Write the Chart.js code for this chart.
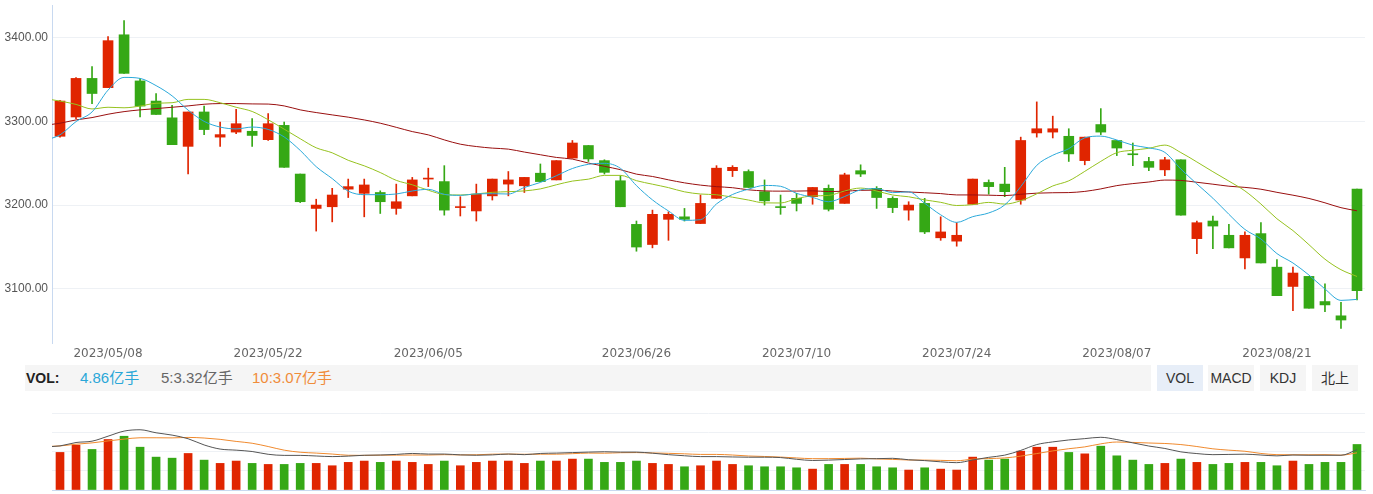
<!DOCTYPE html>
<html>
<head>
<meta charset="utf-8">
<script src="https://cdn.jsdelivr.net/npm/chart.js@4.4.0/dist/chart.umd.min.js"></script>
<style>
  body { margin: 0; background: #fff; font-family: Arial, "Liberation Sans", "Noto Sans CJK SC", sans-serif; }
  #wrap { position: relative; width: 1373px; height: 494px; overflow: hidden; }
  #kline { position: absolute; left: 0; top: 0; }
  #vol { position: absolute; left: 0; top: 400px; }
  .bar { position: absolute; left: 25px; top: 365px; width: 1126px; height: 26px; background: #f5f5f5; }
  .lbl { position: absolute; top: 365px; line-height: 26px; font-size: 15px; white-space: nowrap; }
  .btn { position: absolute; top: 365px; width: 46px; height: 26px; line-height: 26px; text-align: center; font-size: 14px; color: #333; background: #f5f5f5; }
  .btn.on { background: #e7eef8; }
</style>
</head>
<body>
<div id="wrap">
  <canvas id="kline" width="1373" height="360"></canvas>
  <div class="bar"></div>
  <span class="lbl" style="left:26px;font-weight:bold;color:#222;font-size:14px">VOL:</span>
  <span class="lbl" style="left:80px;color:#2aa7d8">4.86亿手</span>
  <span class="lbl" style="left:161px;color:#666">5:3.32亿手</span>
  <span class="lbl" style="left:252px;color:#f08c3a">10:3.07亿手</span>
  <div class="btn on" style="left:1157px">VOL</div>
  <div class="btn" style="left:1208px">MACD</div>
  <div class="btn" style="left:1260px">KDJ</div>
  <div class="btn" style="left:1312px">北上</div>
  <canvas id="vol" width="1373" height="94"></canvas>
</div>
<script>
// trading days shown
const dates = [
  '2023/04/28', '2023/05/04', '2023/05/05', '2023/05/08', '2023/05/09', '2023/05/10', '2023/05/11', '2023/05/12', '2023/05/15', '2023/05/16',
  '2023/05/17', '2023/05/18', '2023/05/19', '2023/05/22', '2023/05/23', '2023/05/24', '2023/05/25', '2023/05/26', '2023/05/29', '2023/05/30',
  '2023/05/31', '2023/06/01', '2023/06/02', '2023/06/05', '2023/06/06', '2023/06/07', '2023/06/08', '2023/06/09', '2023/06/12', '2023/06/13',
  '2023/06/14', '2023/06/15', '2023/06/16', '2023/06/19', '2023/06/20', '2023/06/21', '2023/06/26', '2023/06/27', '2023/06/28', '2023/06/29',
  '2023/06/30', '2023/07/03', '2023/07/04', '2023/07/05', '2023/07/06', '2023/07/07', '2023/07/10', '2023/07/11', '2023/07/12', '2023/07/13',
  '2023/07/14', '2023/07/17', '2023/07/18', '2023/07/19', '2023/07/20', '2023/07/21', '2023/07/24', '2023/07/25', '2023/07/26', '2023/07/27',
  '2023/07/28', '2023/07/31', '2023/08/01', '2023/08/02', '2023/08/03', '2023/08/04', '2023/08/07', '2023/08/08', '2023/08/09', '2023/08/10',
  '2023/08/11', '2023/08/14', '2023/08/15', '2023/08/16', '2023/08/17', '2023/08/18', '2023/08/21', '2023/08/22', '2023/08/23', '2023/08/24',
  '2023/08/25', '2023/08/28'
];
const tickDates = ['2023/05/08', '2023/05/22', '2023/06/05', '2023/06/26', '2023/07/10', '2023/07/24', '2023/08/07', '2023/08/21'];
const priceTicks = [3100, 3200, 3300, 3400];

const opens = [
  3282, 3305, 3351, 3340, 3403, 3348, 3324, 3304, 3270, 3311,
  3281, 3287, 3288, 3278, 3295, 3237, 3196, 3198, 3219, 3214,
  3215, 3196, 3211, 3231, 3228, 3197, 3193, 3211, 3225, 3223,
  3238, 3230, 3256, 3271, 3253, 3229, 3177, 3153, 3183, 3186,
  3178, 3208, 3241, 3240, 3216, 3198, 3208, 3210, 3220, 3202,
  3241, 3220, 3208, 3194, 3202, 3161, 3157, 3201, 3227, 3225,
  3206, 3286, 3287, 3282, 3253, 3296, 3277, 3261, 3252, 3242,
  3254, 3160, 3181, 3164, 3137, 3166, 3126, 3103, 3115, 3085,
  3068, 3219
];
const highs = [
  3325, 3352, 3365, 3401, 3420, 3351, 3333, 3319, 3311, 3318,
  3299, 3314, 3303, 3309, 3299, 3237, 3207, 3220, 3231, 3231,
  3217, 3225, 3233, 3244, 3247, 3210, 3225, 3231, 3240, 3233,
  3249, 3253, 3277, 3271, 3254, 3235, 3181, 3194, 3192, 3196,
  3212, 3247, 3247, 3242, 3230, 3212, 3214, 3221, 3224, 3238,
  3248, 3222, 3210, 3204, 3208, 3186, 3179, 3231, 3230, 3245,
  3281, 3323, 3306, 3291, 3281, 3315, 3277, 3274, 3257, 3257,
  3254, 3181, 3187, 3177, 3168, 3179, 3135, 3126, 3115, 3106,
  3084, 3219
];
const lows = [
  3281, 3303, 3321, 3340, 3357, 3305, 3308, 3272, 3237, 3284,
  3270, 3285, 3270, 3277, 3245, 3203, 3169, 3180, 3209, 3186,
  3190, 3189, 3211, 3222, 3188, 3187, 3181, 3206, 3211, 3215,
  3228, 3230, 3256, 3252, 3237, 3198, 3145, 3149, 3158, 3181,
  3178, 3208, 3234, 3221, 3200, 3189, 3193, 3201, 3193, 3202,
  3234, 3196, 3191, 3182, 3166, 3158, 3151, 3201, 3213, 3210,
  3201, 3281, 3280, 3252, 3248, 3284, 3259, 3247, 3241, 3235,
  3188, 3142, 3148, 3149, 3124, 3131, 3092, 3074, 3077, 3073,
  3053, 3087
];
const closes = [
  3324, 3351, 3333, 3396, 3357, 3318, 3308, 3272, 3311, 3290,
  3284, 3297, 3283, 3297, 3245, 3204, 3200, 3212, 3222, 3224,
  3204, 3204, 3230, 3232, 3194, 3198, 3213, 3231, 3230, 3233,
  3228, 3253, 3274, 3255, 3239, 3198, 3150, 3189, 3189, 3183,
  3202, 3244, 3245, 3221, 3205, 3197, 3202, 3221, 3195, 3236,
  3237, 3209, 3197, 3200, 3168, 3168, 3164, 3231, 3222, 3216,
  3277, 3291, 3291, 3261, 3281, 3287, 3268, 3260, 3245, 3254,
  3188, 3179, 3175, 3149, 3164, 3131, 3092, 3119, 3077, 3081,
  3063, 3098
];

// moving averages, the first value belongs to the day before the first candle (off-screen)
const ma5 = [
  3277, 3283.7, 3299.5, 3311, 3337, 3352.2, 3351, 3342.4, 3330.2, 3313.2, 3299.8,
  3293, 3290.8, 3293, 3290.2, 3281.2, 3265.2, 3245.8, 3231.6, 3216.6, 3212.4,
  3212.4, 3213.2, 3216.8, 3218.8, 3212.8, 3211.6, 3213.4, 3213.6, 3213.2, 3221,
  3227, 3235, 3243.6, 3248.6, 3249.8, 3243.8, 3223.2, 3206.2, 3193, 3181.8,
  3182.6, 3201.4, 3212.6, 3219, 3223.4, 3222.4, 3214, 3209.2, 3204, 3210.2,
  3218.2, 3219.6, 3214.8, 3215.8, 3202.2, 3188.4, 3179.4, 3186.2, 3190.6, 3200.2,
  3222, 3247.4, 3259.4, 3267.2, 3280.2, 3282.2, 3277.6, 3271.4, 3268.2, 3262.8,
  3243, 3225.2, 3208.2, 3189, 3171, 3159.6, 3142.2, 3131, 3116.6, 3100,
  3086.4, 3087.6
];
const ma10 = [
  3327, 3324, 3320, 3314.6, 3316.6, 3316, 3318, 3321.4, 3322, 3326, 3326,
  3322, 3316.6, 3311.6, 3301.7, 3290.5, 3279.1, 3268.3, 3262.3, 3253.4, 3246.8,
  3238.8, 3229.5, 3224.2, 3217.7, 3212.6, 3212, 3213.3, 3215.2, 3216, 3216.9,
  3219.3, 3224.2, 3228.6, 3230.9, 3235.4, 3235.4, 3229.1, 3224.9, 3220.8, 3215.8,
  3213.2, 3212.3, 3209.4, 3206, 3202.6, 3202.5, 3207.7, 3210.9, 3211.5, 3216.8,
  3220.3, 3216.8, 3212, 3209.9, 3206.2, 3203.3, 3199.5, 3200.5, 3203.2, 3201.2,
  3205.2, 3213.4, 3222.8, 3228.9, 3240.2, 3252.1, 3262.5, 3265.4, 3267.7, 3271.5,
  3262.6, 3251.4, 3239.8, 3228.6, 3216.9, 3201.3, 3183.7, 3169.6, 3152.8, 3135.5,
  3123, 3114.9
];
const ma30 = [
  3295, 3297.6, 3301.5, 3304.3, 3308.3, 3311.4, 3313.5, 3315, 3316.6, 3318.2, 3320.2,
  3321, 3321, 3320.6, 3320.4, 3318.2, 3313.5, 3310.3, 3307.5, 3304.8, 3301.5,
  3297.6, 3292.7, 3287.6, 3283.7, 3277.7, 3272.6, 3269.8, 3267.9, 3266.7, 3263.2,
  3260, 3256.8, 3254.8, 3250.1, 3246.2, 3242.2, 3236.9, 3234.1, 3230.1, 3226.5,
  3223.8, 3222, 3220.7, 3218.2, 3216.9, 3216.6, 3216.7, 3217, 3216.1, 3216.5,
  3217.6, 3217.8, 3216.7, 3215.6, 3214.7, 3213.7, 3212.1, 3212.1, 3211.8, 3211.3,
  3212.9, 3214.2, 3214.7, 3214.9, 3216.3, 3219.3, 3223.2, 3225.6, 3227.5, 3229.8,
  3229.4, 3227.2, 3224.9, 3222.5, 3221.1, 3218.9, 3215.2, 3211.8, 3207.9, 3202.7,
  3196.9, 3193.2
];

// volume, 亿手
const volumes = [
  4.01, 4.79, 4.33, 5.39, 5.74, 4.57, 3.51, 3.40, 3.90, 3.19,
  2.84, 3.09, 2.84, 2.73, 2.73, 2.84, 2.84, 2.59, 2.95, 3.09,
  2.95, 3.09, 2.95, 2.73, 3.09, 2.59, 2.95, 3.09, 3.09, 2.84,
  3.09, 3.09, 3.30, 3.30, 2.95, 2.95, 3.09, 2.84, 2.73, 2.48,
  2.59, 3.09, 2.73, 2.59, 2.48, 2.48, 2.37, 2.23, 2.73, 2.73,
  2.73, 2.48, 2.37, 2.13, 2.37, 2.23, 2.13, 3.51, 3.19, 3.30,
  4.15, 4.57, 4.57, 4.01, 3.86, 4.68, 3.65, 3.19, 2.73, 2.84,
  3.30, 2.95, 2.73, 2.84, 2.95, 2.95, 2.59, 3.09, 2.73, 2.95,
  2.95, 4.86
];
const volMa5 = [
  3.55, 3.63, 3.91, 4.02, 4.43, 4.85, 4.96, 4.71, 4.52, 4.22, 3.71,
  3.37, 3.28, 3.17, 2.94, 2.85, 2.85, 2.80, 2.75, 2.79, 2.86,
  2.88, 2.93, 3.01, 2.96, 2.96, 2.89, 2.86, 2.89, 2.96, 2.91,
  3.01, 3.04, 3.08, 3.12, 3.15, 3.12, 3.12, 3.03, 2.91, 2.82,
  2.75, 2.75, 2.72, 2.70, 2.70, 2.67, 2.53, 2.43, 2.46, 2.51,
  2.56, 2.58, 2.61, 2.49, 2.42, 2.32, 2.25, 2.47, 2.69, 2.87,
  3.26, 3.74, 3.96, 4.12, 4.23, 4.34, 4.15, 3.88, 3.62, 3.42,
  3.14, 3.00, 2.91, 2.93, 2.95, 2.88, 2.81, 2.88, 2.86, 2.86,
  2.86, 3.32
];
const volMa10 = [
  3.58, 3.63, 3.77, 3.88, 4.04, 4.19, 4.30, 4.30, 4.29, 4.33, 4.28,
  4.17, 4.00, 3.85, 3.58, 3.28, 3.11, 3.04, 2.96, 2.86, 2.85,
  2.87, 2.87, 2.88, 2.88, 2.91, 2.89, 2.90, 2.95, 2.96, 2.94,
  2.95, 2.95, 2.99, 3.04, 3.03, 3.07, 3.08, 3.05, 3.02, 2.98,
  2.93, 2.93, 2.88, 2.80, 2.76, 2.71, 2.64, 2.58, 2.58, 2.60,
  2.62, 2.56, 2.52, 2.47, 2.46, 2.44, 2.41, 2.54, 2.59, 2.64,
  2.79, 3.00, 3.22, 3.40, 3.55, 3.80, 3.95, 3.92, 3.87, 3.83,
  3.74, 3.58, 3.39, 3.28, 3.19, 3.01, 2.91, 2.90, 2.90, 2.91,
  2.87, 3.06
];

const UP = '#e02500';
const DOWN = '#35a815';
const AXIS_BLUE = '#c8d9f0';
const GRID = '#eef1f5';

Chart.defaults.font.family = 'Arial, "Liberation Sans", sans-serif';

const candleColors = closes.map((c, i) => (c >= opens[i] ? UP : DOWN));
const tickIdx = tickDates.map((d) => dates.indexOf(d));

// line series start one day before the first candle
function lineData(values) {
  return values.map((v, i) => ({ x: i - 1, y: v }));
}

function maLine(values, color) {
  return {
    type: 'line',
    data: lineData(values),
    borderColor: color,
    borderWidth: 1,
    pointRadius: 0,
    cubicInterpolationMode: 'monotone',
    order: 0,
  };
}

const xScale = {
  type: 'linear',
  min: -0.5,
  max: dates.length - 0.5,
  offset: false,
};

// K line chart
new Chart(document.getElementById('kline'), {
  type: 'bar',
  data: {
    datasets: [
      {
        data: dates.map((d, i) => ({ x: i, y: [lows[i], highs[i]] })),
        backgroundColor: candleColors,
        barThickness: 1,
        grouped: false,
        order: 2,
      },
      {
        data: dates.map((d, i) => ({ x: i, y: [opens[i], closes[i]] })),
        backgroundColor: candleColors,
        barThickness: 10,
        minBarLength: 1,
        grouped: false,
        order: 1,
      },
      maLine(ma5, '#2ba9da'),
      maLine(ma10, '#96c21f'),
      maLine(ma30, '#990f0f'),
    ],
  },
  options: {
    responsive: false,
    animation: false,
    events: [],
    layout: { padding: { top: 5, right: 8, bottom: 0, left: 0 } },
    plugins: { legend: { display: false }, tooltip: { enabled: false } },
    scales: {
      x: {
        ...xScale,
        grid: { display: false, drawTicks: false },
        border: { display: false },
        afterBuildTicks: (s) => {
          s.ticks = tickIdx.map((v) => ({ value: v }));
        },
        afterFit: (s) => {
          s.height = 17;
          s.paddingLeft = 0;
          s.paddingRight = 0;
        },
        ticks: {
          autoSkip: false,
          maxRotation: 0,
          padding: 4,
          color: '#666',
          font: { size: 12, family: '"DejaVu Sans", Arial, sans-serif' },
          callback: (v) => dates[v],
        },
      },
      y: {
        min: 3035.6,
        max: 3438.5,
        grid: { color: GRID, drawTicks: false },
        border: { display: true, color: AXIS_BLUE },
        afterBuildTicks: (s) => {
          s.ticks = priceTicks.map((v) => ({ value: v }));
        },
        afterFit: (s) => {
          s.width = 52;
          s.paddingTop = 0;
          s.paddingBottom = 0;
        },
        ticks: {
          padding: 4,
          color: '#555',
          font: { size: 12 },
          callback: (v) => Number(v).toFixed(2),
        },
      },
    },
  },
});

// volume chart
new Chart(document.getElementById('vol'), {
  type: 'bar',
  data: {
    datasets: [
      {
        data: volumes.map((v, i) => ({ x: i, y: v })),
        backgroundColor: candleColors,
        barThickness: 8,
        grouped: false,
        yAxisID: 'y',
        order: 1,
      },
      { ...maLine(volMa5, '#555'), yAxisID: 'y2' },
      { ...maLine(volMa10, '#f08a2e'), yAxisID: 'y2' },
    ],
  },
  options: {
    responsive: false,
    animation: false,
    events: [],
    layout: { padding: { top: 13, right: 8, bottom: 4, left: 0 } },
    plugins: { legend: { display: false }, tooltip: { enabled: false } },
    scales: {
      x: {
        ...xScale,
        grid: { display: false, drawTicks: false },
        border: { display: true, color: AXIS_BLUE },
        ticks: { display: false },
        afterFit: (s) => {
          s.height = 0;
          s.paddingLeft = 0;
          s.paddingRight = 0;
        },
      },
      y: {
        min: 0,
        max: 8.22,
        grid: { color: GRID, drawTicks: false },
        border: { display: false },
        ticks: { display: false },
        afterBuildTicks: (s) => {
          s.ticks = [0, 2.055, 4.11, 6.165, 8.22].map((v) => ({ value: v }));
        },
        afterFit: (s) => {
          s.width = 52;
          s.paddingTop = 0;
          s.paddingBottom = 0;
        },
      },
      y2: {
        min: 0,
        max: 6.34,
        display: false,
      },
    },
  },
});
</script>
</body>
</html>
